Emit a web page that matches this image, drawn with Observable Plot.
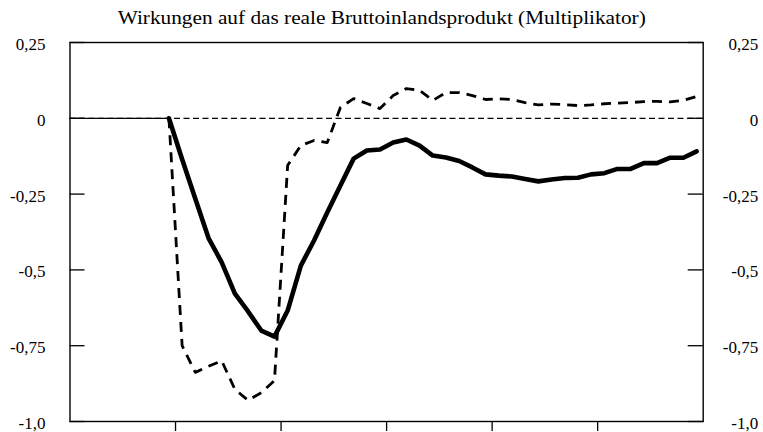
<!DOCTYPE html>
<html>
<head>
<meta charset="utf-8">
<script src="https://cdn.jsdelivr.net/npm/d3@7"></script>
<script src="https://cdn.jsdelivr.net/npm/@observablehq/plot@0.6"></script>
<style>
  html, body { margin: 0; padding: 0; background: white; }
  #wrap { width: 763px; height: 432px; overflow: hidden; }
  #title { height: 32px; padding-top: 2px; line-height: 32px; text-align: center;
           font-family: "Liberation Serif", "Times New Roman", serif; font-size: 19px; color: black; }
  #title span { display: inline-block; transform: scaleX(1.12); transform-origin: center; white-space: nowrap; }
</style>
</head>
<body>
<div id="wrap">
  <div id="title"><span>Wirkungen auf das reale Bruttoinlandsprodukt (Multiplikator)</span></div>
  <div id="chart"></div>
</div>
<script>
// Quarters (0..47); the two series start at quarter 7
const quarters = d3.range(7, 48);
const solidValues = [
  0, -0.135, -0.265, -0.395, -0.475, -0.578, -0.637, -0.70, -0.72, -0.634,
  -0.486, -0.403, -0.311, -0.222, -0.133, -0.106, -0.103, -0.080, -0.070, -0.090,
  -0.123, -0.129, -0.141, -0.162, -0.185, -0.189, -0.192, -0.200, -0.208, -0.202,
  -0.197, -0.196, -0.185, -0.181, -0.167, -0.167, -0.148, -0.148, -0.130, -0.130,
  -0.109
];
const dashedValues = [
  0, -0.75, -0.838, -0.818, -0.80, -0.894, -0.93, -0.905, -0.865, -0.155,
  -0.09, -0.073, -0.08, 0.036, 0.065, 0.049, 0.032, 0.075, 0.098, 0.092,
  0.059, 0.085, 0.085, 0.075, 0.062, 0.064, 0.062, 0.052, 0.044, 0.047,
  0.045, 0.042, 0.044, 0.048, 0.050, 0.052, 0.055, 0.056, 0.054, 0.059,
  0.072
];
const xDomain = [0, 48];
const xTicks = [8, 16, 24, 32, 40];
const yTicks = [0.25, 0, -0.25, -0.5, -0.75, -1.0];
const yTickLabels = ["0,25", "0", "-0,25", "-0,5", "-0,75", "-1,0"];

const table = quarters.map((q, i) => ({x: q + 0.5, solid: solidValues[i], dashed: dashedValues[i]}));
const startX = table[0].x;

const W = 763, H = 398, mL = 69.5, mR = 60.3, mT = 8, mB = 11;
const plotW = W - mL - mR;
const fmt = d => yTickLabels[yTicks.indexOf(d)];

const chart = Plot.plot({
  width: W, height: H,
  marginTop: mT, marginBottom: mB, marginLeft: mL, marginRight: mR,
  x: {domain: xDomain, label: null},
  y: {domain: [-1, 0.25], label: null},
  style: {fontFamily: "'Liberation Serif', 'Times New Roman', serif", fontSize: "17px", color: "black", background: "white"},
  marks: [
    Plot.ruleY([0], {stroke: "black", strokeWidth: 1.2, strokeDasharray: "6,3.5"}),
    Plot.ruleY([0], {x1: xDomain[0], x2: startX, stroke: "black", strokeWidth: 1.2}),
    Plot.line(table, {x: "x", y: "dashed", stroke: "black", strokeWidth: 2.8, strokeDasharray: "10,7", strokeLinecap: "butt"}),
    Plot.line(table, {x: "x", y: "solid", stroke: "black", strokeWidth: 4.6}),
    Plot.frame({stroke: "black", strokeWidth: 1.4}),
    Plot.tickY(yTicks, {y: d => d, stroke: "black", strokeWidth: 1.3, insetRight: plotW - 15}),
    Plot.tickY(yTicks, {y: d => d, stroke: "black", strokeWidth: 1.3, insetLeft: plotW - 15}),
    Plot.axisX({ticks: xTicks, tickSize: 10, tickFormat: () => "", strokeWidth: 1.3, label: null}),
    Plot.axisY({anchor: "left", ticks: yTicks, tickSize: 0, tickPadding: 24.5, tickFormat: fmt, dy: 2, label: null}),
    Plot.axisY({anchor: "right", ticks: yTicks, tickSize: 0, tickPadding: 55, textAnchor: "end", tickFormat: fmt, dy: 2, label: null})
  ]
});
document.getElementById("chart").appendChild(chart);
</script>
</body>
</html>
